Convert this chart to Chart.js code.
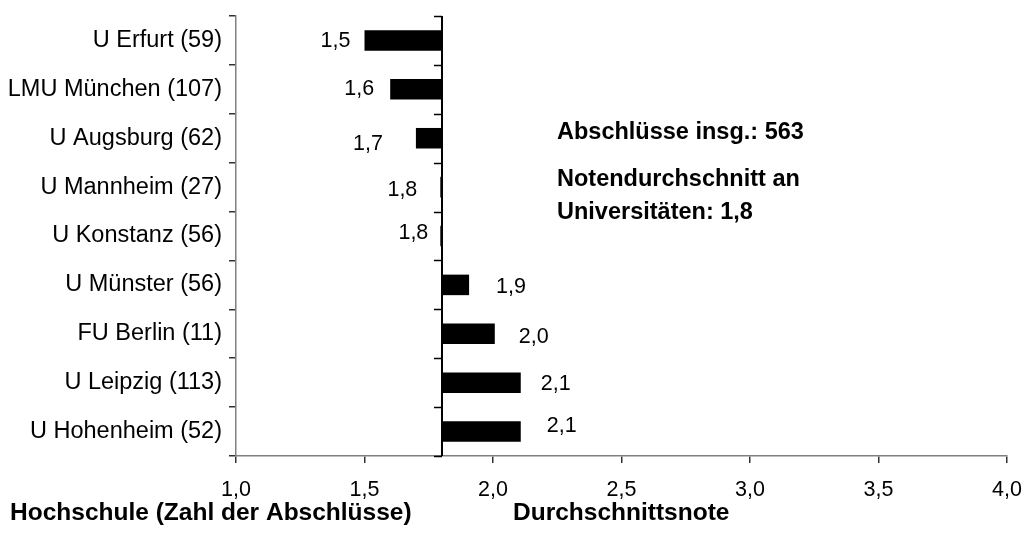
<!DOCTYPE html>
<html>
<head>
<meta charset="utf-8">
<script src="https://cdn.jsdelivr.net/npm/chart.js@4.4.1/dist/chart.umd.min.js"></script>
<style>
    html, body { margin: 0; padding: 0; background: #fff; }
    #wrap { width: 1028px; height: 536px; position: relative; }
</style>
</head>
<body>
<div id="wrap"><canvas id="gradeChart" width="1028" height="536"></canvas></div>
<script>
// Hochschulen with number of graduates, top to bottom
const schools = ['U Erfurt (59)', 'LMU München (107)', 'U Augsburg (62)', 'U Mannheim (27)', 'U Konstanz (56)',
    'U Münster (56)', 'FU Berlin (11)', 'U Leipzig (113)', 'U Hohenheim (52)'];
const grades = [1.5, 1.6, 1.7, 1.795, 1.795, 1.907, 2.007, 2.108, 2.108];
const gradeLabels = ['1,5', '1,6', '1,7', '1,8', '1,8', '1,9', '2,0', '2,1', '2,1'];
const average = 1.8;
const xTicks = [1.0, 1.5, 2.0, 2.5, 3.0, 3.5, 4.0];

// hand-placed label nudges in the original (px)
const labelGap = [14, 16, 33, 23, 12, 27, 24, 20, 26];
const labelLift = [1, 0, 6, 3, -3, 2, 3, 1, -5];

const FONT = '"Liberation Sans", Arial, sans-serif';

const averageLine = {
    id: 'averageLine',
    afterDatasetsDraw(chart) {
        const { ctx, scales: { x, y } } = chart;
        const px = Math.round(x.getPixelForValue(average));
        ctx.save();
        ctx.strokeStyle = '#000';
        ctx.lineWidth = 2;
        ctx.beginPath();
        ctx.moveTo(px, y.top);
        ctx.lineTo(px, y.bottom);
        ctx.stroke();
        ctx.lineWidth = 1.5;
        for (let i = 0; i <= schools.length; i++) {
            const py = Math.round(y.getPixelForValue(i - 0.5)) + 0.5;
            ctx.beginPath();
            ctx.moveTo(px - 8, py);
            ctx.lineTo(px, py);
            ctx.stroke();
        }
        ctx.restore();
    }
};

const valueLabels = {
    id: 'valueLabels',
    afterDatasetsDraw(chart) {
        const { ctx, scales: { x } } = chart;
        const bars = chart.getDatasetMeta(0).data;
        ctx.save();
        ctx.font = '21.5px ' + FONT;
        ctx.fillStyle = '#000';
        ctx.textBaseline = 'middle';
        bars.forEach((bar, i) => {
            const left = grades[i] < average;
            const end = x.getPixelForValue(grades[i]);
            ctx.textAlign = left ? 'right' : 'left';
            const xPos = left ? end - labelGap[i] : end + labelGap[i];
            ctx.fillText(gradeLabels[i], xPos, bar.y + labelLift[i]);
        });
        ctx.restore();
    }
};

const notes = {
    id: 'notes',
    afterDraw(chart) {
        const { ctx } = chart;
        ctx.save();
        ctx.fillStyle = '#000';
        ctx.font = 'bold 23.5px ' + FONT;
        ctx.textBaseline = 'alphabetic';
        ctx.textAlign = 'left';
        ctx.fillText('Abschlüsse insg.: 563', 557, 139);
        ctx.fillText('Notendurchschnitt an', 557, 186);
        ctx.fillText('Universitäten: 1,8', 557, 219);
        ctx.font = 'bold 24.5px ' + FONT;
        ctx.fillText('Hochschule (Zahl der Abschlüsse)', 10, 520);
        ctx.fillText('Durchschnittsnote', 513, 520);
        ctx.restore();
    }
};

new Chart(document.getElementById('gradeChart'), {
    type: 'bar',
    data: {
        labels: schools,
        datasets: [{
            data: grades.map(g => [average, g]),
            backgroundColor: '#000',
            borderWidth: 0,
            barPercentage: 0.42,
            categoryPercentage: 1.0
        }]
    },
    options: {
        indexAxis: 'y',
        responsive: false,
        animation: false,
        devicePixelRatio: 1,
        layout: { padding: { top: 16, right: 21, left: 0, bottom: 0 } },
        plugins: { legend: { display: false }, tooltip: { enabled: false } },
        scales: {
            x: {
                min: 1.0,
                max: 4.0,
                afterBuildTicks: axis => { axis.ticks = xTicks.map(v => ({ value: v })); },
                afterFit: axis => {
                    axis.height = 80;
                    axis.paddingLeft = 0;
                    axis.paddingRight = 0;
                },
                border: { color: '#808080', width: 1.5 },
                grid: { drawOnChartArea: false, tickLength: 7, tickColor: '#333', lineWidth: 1.5 },
                ticks: {
                    padding: 14,
                    maxRotation: 0,
                    color: '#000',
                    font: { family: FONT, size: 21.5 },
                    callback: v => v.toFixed(1).replace('.', ',')
                }
            },
            y: {
                afterFit: axis => {
                    axis.width = 236;
                    axis.paddingTop = 0;
                    axis.paddingBottom = 0;
                },
                border: { color: '#808080', width: 1.5 },
                grid: { drawOnChartArea: false, offset: true, tickLength: 7, tickColor: '#333', lineWidth: 1.5 },
                ticks: {
                    padding: 7,
                    color: '#000',
                    font: { family: FONT, size: 23.5 }
                }
            }
        }
    },
    plugins: [averageLine, valueLabels, notes]
});
</script>
</body>
</html>
